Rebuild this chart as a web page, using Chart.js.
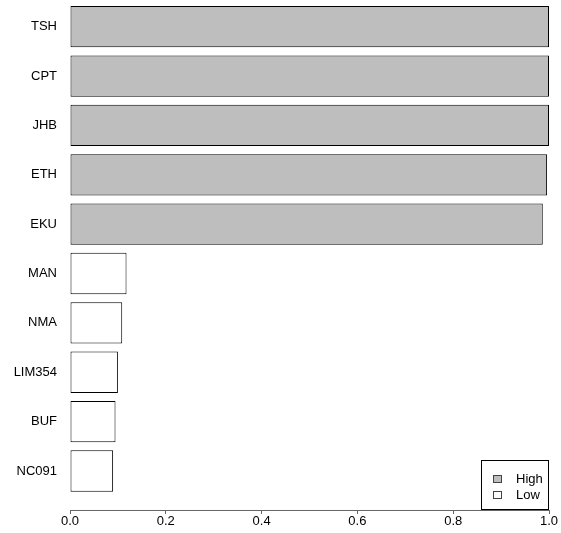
<!DOCTYPE html>
<html>
<head>
<meta charset="utf-8">
<script src="https://cdn.jsdelivr.net/npm/chart.js@4"></script>
<style>
  html, body { margin: 0; padding: 0; background: #fff; }
</style>
</head>
<body>
<canvas id="chart" width="561" height="533"></canvas>
<script>
'use strict';

const categories = ['TSH', 'CPT', 'JHB', 'ETH', 'EKU', 'MAN', 'NMA', 'LIM354', 'BUF', 'NC091'];
const values = [1.0, 1.0, 1.0, 0.996, 0.987, 0.118, 0.109, 0.100, 0.095, 0.090];
const groups = ['High', 'High', 'High', 'High', 'High', 'Low', 'Low', 'Low', 'Low', 'Low'];
const groupNames = ['High', 'Low'];
const groupColors = { High: '#bebebe', Low: '#ffffff' };
const xTicks = [0, 0.2, 0.4, 0.6, 0.8, 1.0];

const FONT = { family: '"Liberation Sans", Arial, sans-serif', size: 13 };

// legend box in the bottom right corner of the plot area
const boxLegend = {
  id: 'boxLegend',
  afterDraw(chart) {
    const ctx = chart.ctx;
    const area = chart.chartArea;
    const w = 68, h = 50;
    const left = area.right - w;
    const top = area.bottom - h;
    ctx.save();
    ctx.strokeStyle = '#000';
    ctx.lineWidth = 1;
    ctx.fillStyle = '#fff';
    ctx.fillRect(left, top, w, h);
    ctx.strokeRect(left + 0.5, top + 0.5, w - 1, h - 1);
    ctx.font = `${FONT.size}px ${FONT.family}`;
    ctx.textBaseline = 'middle';
    groupNames.forEach((g, i) => {
      const cy = top + 19 + i * 16;
      ctx.fillStyle = groupColors[g];
      ctx.fillRect(left + 12.5, cy - 3.5, 8, 7);
      ctx.strokeStyle = '#444';
      ctx.strokeRect(left + 12.5, cy - 3.5, 8, 7);
      ctx.fillStyle = '#000';
      ctx.fillText(g, left + 35, cy);
    });
    ctx.restore();
  }
};

new Chart(document.getElementById('chart'), {
  type: 'bar',
  data: {
    datasets: [{
      data: values.map((v, i) => ({ x: v, y: i })),
      backgroundColor: groups.map(g => groupColors[g]),
      borderColor: '#000',
      borderWidth: 1,
      borderSkipped: false,
      barPercentage: 0.837,
      categoryPercentage: 1
    }]
  },
  options: {
    indexAxis: 'y',
    responsive: false,
    animation: false,
    layout: { padding: { top: 2, right: 12, left: 0, bottom: 0 } },
    plugins: {
      legend: { display: false },
      tooltip: { enabled: false }
    },
    scales: {
      x: {
        type: 'linear',
        position: 'bottom',
        min: 0,
        max: 1,
        afterBuildTicks: axis => { axis.ticks = xTicks.map(v => ({ value: v })); },
        afterFit: axis => {
          axis.height = 23;
          axis.paddingLeft = 0;
          axis.paddingRight = 0;
        },
        ticks: {
          callback: v => v.toFixed(1),
          font: FONT,
          color: '#000',
          padding: 0,
          maxRotation: 0
        },
        grid: { drawOnChartArea: false, drawTicks: true, tickLength: 4, color: '#666' },
        border: { display: true, color: '#666', width: 1 }
      },
      y: {
        type: 'linear',
        offset: false,
        reverse: true,
        min: -0.5,
        max: 9.79,
        afterBuildTicks: axis => { axis.ticks = categories.map((c, i) => ({ value: i })); },
        afterFit: axis => {
          axis.width = 70;
          axis.paddingTop = 0;
          axis.paddingBottom = 0;
        },
        ticks: {
          callback: v => categories[v],
          font: FONT,
          color: '#000',
          padding: 13,
          autoSkip: false
        },
        grid: { display: false, drawTicks: false },
        border: { display: false }
      }
    }
  },
  plugins: [boxLegend]
});
</script>
</body>
</html>
